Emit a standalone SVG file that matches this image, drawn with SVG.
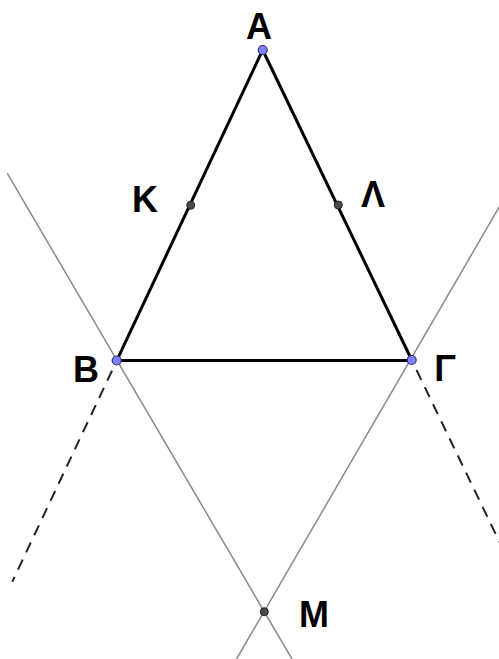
<svg xmlns="http://www.w3.org/2000/svg" width="499" height="659" viewBox="0 0 499 659">
<style>
.lbl{font-family:"Liberation Sans",Arial,sans-serif;font-weight:bold;font-size:36px;fill:#000;text-anchor:middle}
.side{stroke:#000;stroke-width:3;fill:none;stroke-linecap:round}
.thin{stroke:#8a8a8a;stroke-width:1.5;fill:none}
.dash{stroke:#222;stroke-width:2;fill:none;stroke-dasharray:11 8}
.vtx{fill:#8080ff;stroke:#33337a;stroke-width:1.2}
.pt{fill:#4a4a4a;stroke:#222;stroke-width:1}
</style>
<rect width="499" height="659" fill="#fff"/>
<g id="connectors">
<line class="thin" x1="7.3" y1="173.3" x2="292" y2="659"/>
<line class="thin" x1="499.5" y1="206.5" x2="236.5" y2="659"/>
<line class="dash" x1="112" y1="370.7" x2="12.3" y2="581.7"/>
<line class="dash" x1="416.5" y1="370" x2="500" y2="543"/>
<line class="side" x1="262.7" y1="50" x2="116.7" y2="360.7"/>
<line class="side" x1="262.7" y1="50" x2="411.7" y2="360"/>
<line class="side" x1="116.7" y1="360.5" x2="411.7" y2="360.5"/>
</g>
<g id="A"><circle class="vtx" cx="262.7" cy="50" r="4.5"/><text class="lbl" x="259" y="39">Α</text></g>
<g id="B"><circle class="vtx" cx="116.7" cy="360.5" r="4.5"/><text class="lbl" x="86" y="382">Β</text></g>
<g id="G"><circle class="vtx" cx="411.7" cy="360" r="4.5"/><text class="lbl" x="445" y="381">Γ</text></g>
<g id="K"><circle class="pt" cx="190.7" cy="205.3" r="4"/><text class="lbl" x="145" y="212">Κ</text></g>
<g id="L"><circle class="pt" cx="338.3" cy="205" r="4"/><text class="lbl" x="373" y="207">Λ</text></g>
<g id="M"><circle class="pt" cx="264.3" cy="611.7" r="4"/><text class="lbl" x="314" y="627">Μ</text></g>
</svg>
